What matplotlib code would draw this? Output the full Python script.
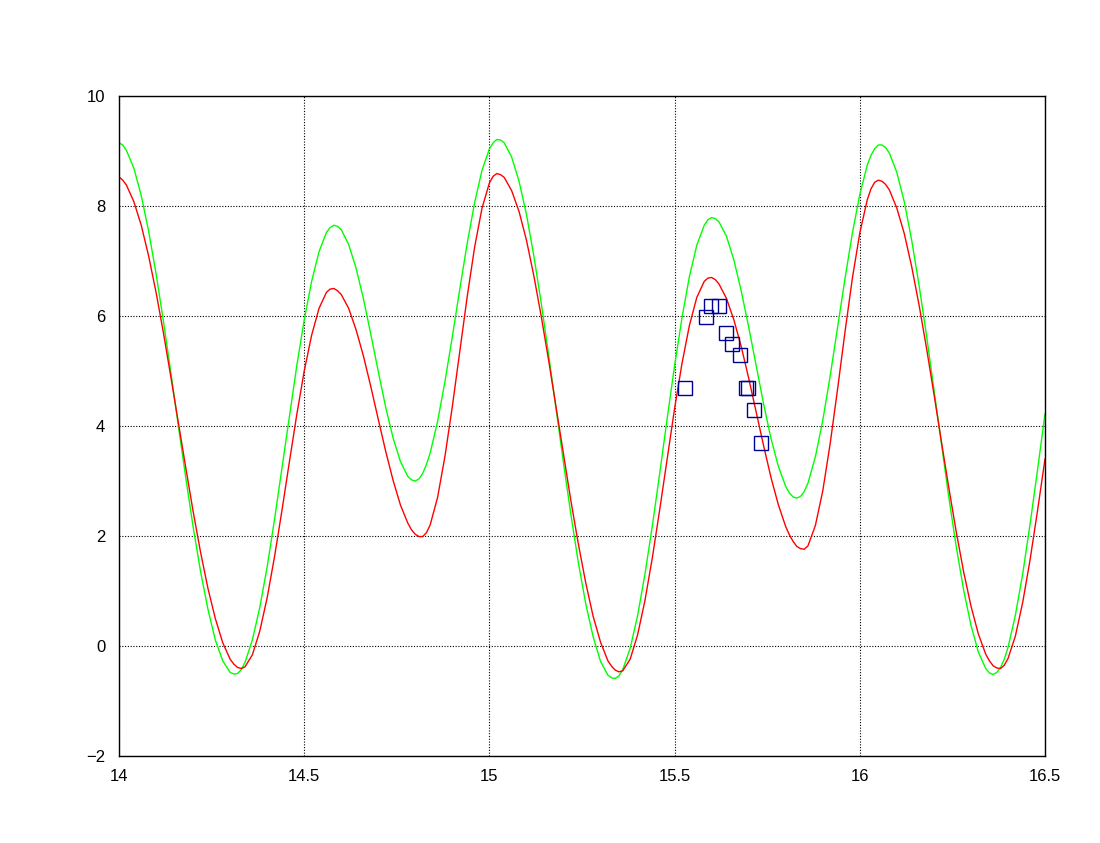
import matplotlib
matplotlib.use('Agg')
import matplotlib.pyplot as plt

# sample times (days) shared by both predicted curves,
# a little denser around the turning points
time = [14.00, 14.01, 14.02, 14.04, 14.06, 14.08, 14.10, 14.12, 14.14, 14.16,
        14.18, 14.20, 14.22, 14.24, 14.26, 14.28, 14.30, 14.31, 14.32, 14.33,
        14.34, 14.36, 14.38, 14.40, 14.42, 14.44, 14.46, 14.48, 14.50, 14.52,
        14.54, 14.56, 14.57, 14.58, 14.59, 14.60, 14.62, 14.64, 14.66, 14.68,
        14.70, 14.72, 14.74, 14.76, 14.78, 14.79, 14.80, 14.81, 14.82, 14.83,
        14.84, 14.86, 14.88, 14.90, 14.92, 14.94, 14.96, 14.98, 15.00, 15.01,
        15.02, 15.03, 15.04, 15.06, 15.08, 15.10, 15.12, 15.14, 15.16, 15.18,
        15.20, 15.22, 15.24, 15.26, 15.28, 15.30, 15.32, 15.33, 15.34, 15.35,
        15.36, 15.38, 15.40, 15.42, 15.44, 15.46, 15.48, 15.50, 15.52, 15.54,
        15.56, 15.58, 15.59, 15.60, 15.61, 15.62, 15.64, 15.66, 15.68, 15.70,
        15.72, 15.74, 15.76, 15.78, 15.80, 15.81, 15.82, 15.83, 15.84, 15.85,
        15.86, 15.88, 15.90, 15.92, 15.94, 15.96, 15.98, 16.00, 16.02, 16.03,
        16.04, 16.05, 16.06, 16.07, 16.08, 16.10, 16.12, 16.14, 16.16, 16.18,
        16.20, 16.22, 16.24, 16.26, 16.28, 16.30, 16.32, 16.34, 16.35, 16.36,
        16.37, 16.38, 16.39, 16.40, 16.42, 16.44, 16.46, 16.48, 16.50]

green = [9.15, 9.11, 9.01, 8.69, 8.19, 7.54, 6.77, 5.90, 4.97, 4.01,
         3.07, 2.17, 1.36, 0.67, 0.11, -0.27, -0.48, -0.51, -0.50, -0.43,
         -0.30, 0.11, 0.70, 1.44, 2.31, 3.24, 4.18, 5.10, 5.93, 6.63,
         7.17, 7.52, 7.61, 7.65, 7.63, 7.57, 7.30, 6.87, 6.31, 5.66,
         4.99, 4.34, 3.78, 3.35, 3.08, 3.02, 3.00, 3.04, 3.14, 3.30,
         3.51, 4.08, 4.81, 5.63, 6.49, 7.32, 8.06, 8.65, 9.04, 9.15,
         9.21, 9.20, 9.15, 8.89, 8.45, 7.85, 7.09, 6.23, 5.29, 4.31,
         3.33, 2.39, 1.52, 0.77, 0.17, -0.28, -0.53, -0.58, -0.59, -0.54,
         -0.43, -0.04, 0.55, 1.31, 2.19, 3.15, 4.14, 5.10, 5.97, 6.72,
         7.29, 7.65, 7.75, 7.79, 7.77, 7.71, 7.45, 7.02, 6.45, 5.80,
         5.10, 4.41, 3.78, 3.27, 2.90, 2.78, 2.71, 2.69, 2.72, 2.81,
         2.96, 3.44, 4.10, 4.91, 5.79, 6.68, 7.51, 8.21, 8.74, 8.92,
         9.04, 9.11, 9.11, 9.06, 8.96, 8.61, 8.08, 7.38, 6.56, 5.65,
         4.67, 3.68, 2.72, 1.82, 1.03, 0.38, -0.11, -0.41, -0.49, -0.52,
         -0.48, -0.39, -0.24, -0.03, 0.56, 1.32, 2.23, 3.21, 4.22]

red = [8.53, 8.47, 8.38, 8.08, 7.65, 7.09, 6.43, 5.69, 4.89, 4.07,
       3.25, 2.45, 1.71, 1.05, 0.50, 0.06, -0.24, -0.33, -0.39, -0.41,
       -0.38, -0.16, 0.27, 0.88, 1.63, 2.47, 3.35, 4.21, 5.00, 5.65,
       6.14, 6.43, 6.49, 6.50, 6.46, 6.39, 6.14, 5.75, 5.27, 4.71,
       4.12, 3.54, 3.01, 2.56, 2.23, 2.11, 2.03, 1.99, 1.99, 2.06,
       2.20, 2.70, 3.45, 4.36, 5.36, 6.35, 7.25, 7.96, 8.42, 8.54,
       8.59, 8.57, 8.52, 8.28, 7.90, 7.38, 6.73, 5.99, 5.19, 4.34,
       3.48, 2.64, 1.86, 1.15, 0.54, 0.07, -0.27, -0.37, -0.44, -0.47,
       -0.45, -0.24, 0.20, 0.83, 1.61, 2.49, 3.41, 4.32, 5.14, 5.83,
       6.34, 6.63, 6.69, 6.70, 6.66, 6.58, 6.32, 5.93, 5.44, 4.87,
       4.26, 3.65, 3.07, 2.57, 2.17, 2.02, 1.90, 1.81, 1.77, 1.76,
       1.82, 2.19, 2.82, 3.68, 4.67, 5.71, 6.69, 7.51, 8.11, 8.31,
       8.43, 8.47, 8.45, 8.39, 8.29, 7.96, 7.50, 6.90, 6.20, 5.42,
       4.59, 3.73, 2.89, 2.09, 1.36, 0.73, 0.22, -0.15, -0.27, -0.36,
       -0.40, -0.41, -0.35, -0.23, 0.18, 0.80, 1.58, 2.47, 3.40]

# observed points (blue squares)
obs_t = [15.527, 15.584, 15.597, 15.619, 15.638, 15.656, 15.677, 15.692,
         15.697, 15.713, 15.732]
obs_h = [4.70, 5.99, 6.19, 6.19, 5.70, 5.50, 5.30, 4.70, 4.70, 4.30, 3.70]

xticks = [14, 14.5, 15, 15.5, 16, 16.5]
xlabels = ['14', '14.5', '15', '15.5', '16', '16.5']
yticks = [-2, 0, 2, 4, 6, 8, 10]

plt.rcParams['font.family'] = ['Liberation Sans', 'DejaVu Sans']

fig = plt.figure(figsize=(11.0, 8.43), dpi=100)
ax = fig.add_axes([0.1082, 0.1032, 0.8418, 0.7829])

ax.plot(time, green, color='#00ff00', lw=1.0)
ax.plot(time, red, color='#ff0000', lw=1.0)
ax.plot(obs_t, obs_h, ls='none', marker='s', ms=9.6, mfc='none',
        mec='#000096', mew=1.0)

ax.set_xlim(14, 16.5)
ax.set_ylim(-2, 10)
ax.set_xticks(xticks)
ax.set_xticklabels(xlabels)
ax.set_yticks(yticks)
ax.tick_params(length=0, labelsize=12, labelcolor='black')
ax.tick_params(axis='x', pad=9)
ax.tick_params(axis='y', pad=10)
ax.grid(True, color='black', ls=(0, (1, 1.5)), lw=0.8)
ax.set_axisbelow(True)
for sp in ax.spines.values():
    sp.set_linewidth(1.0)
    sp.set_color('black')

plt.savefig('out.png', dpi=100)
